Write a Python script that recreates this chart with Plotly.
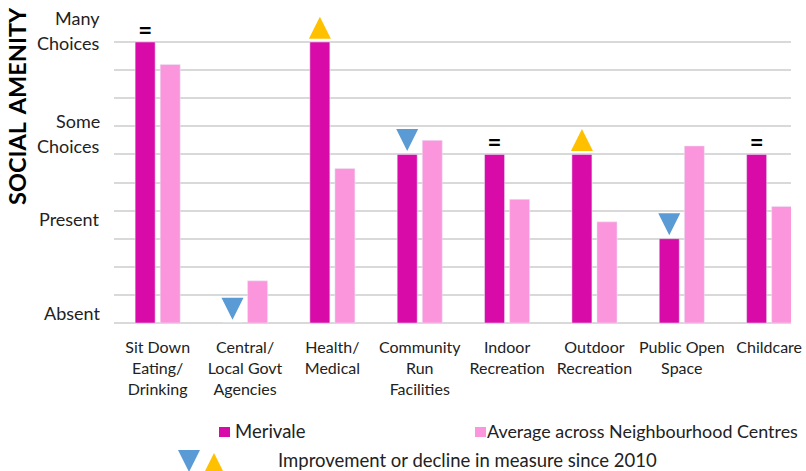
import plotly.graph_objects as go
import numpy as np

# ---------------- data ----------------
categories = ["Sit Down<br>Eating/<br>Drinking", "Central/<br>Local Govt<br>Agencies",
              "Health/<br>Medical", "Community<br>Run<br>Facilities",
              "Indoor<br>Recreation", "Outdoor<br>Recreation",
              "Public Open<br>Space", "Childcare"]
merivale = [10, 0, 10, 6, 6, 6, 3, 6]
average = [9.2, 1.5, 5.5, 6.5, 4.4, 3.6, 6.3, 4.15]
change = ["=", "down", "up", "down", "=", "up", "down", "="]
level_labels = ["Many", "Choices", "Some", "Choices", "Present", "Absent"]
level_label_pos = [10.85, 9.95, 7.2, 6.3, 3.7, 0.37]
grid_values = list(range(0, 11))
series_names = ["Merivale", "Average across Neighbourhood Centres"]
legend_note = "Improvement or decline in measure since 2010"
axis_title = "SOCIAL\u2009 AMENITY"

# ---------------- style ----------------
DARK = "#D90BA8"
LIGHT = "#FC96DC"
BLUE = "#5B9BD5"
YELLOW = "#FFC000"
GRID = "#D9D9D9"
FONT = "Lato, Calibri, sans-serif"

W, H = 806, 471
ML, MR, MT, MB = 114, 15, 0, 148
PW, PH = W - ML - MR, H - MT - MB
YTOP = PH / 28.1

x = np.arange(len(categories))
bw = 0.229
dark_off = -0.258
light_off = 0.029

fig = go.Figure()
fig.add_trace(go.Bar(x=x, y=merivale, width=bw, offset=dark_off, marker_color=DARK,
                     name=series_names[0], showlegend=False))
fig.add_trace(go.Bar(x=x, y=average, width=bw, offset=light_off, marker_color=LIGHT,
                     name=series_names[1], showlegend=False))

dark_center = x + dark_off + bw / 2
up_i = [i for i, c in enumerate(change) if c == "up"]
dn_i = [i for i, c in enumerate(change) if c == "down"]
eq_i = [i for i, c in enumerate(change) if c == "="]

fig.add_trace(go.Scatter(x=dark_center[up_i], y=[merivale[i] + 0.9 for i in up_i],
                         mode="markers", cliponaxis=False, showlegend=False,
                         marker=dict(symbol="arrow-up", size=22, color=YELLOW)))
fig.add_trace(go.Scatter(x=dark_center[dn_i], y=[merivale[i] + 0.12 for i in dn_i],
                         mode="markers", cliponaxis=False, showlegend=False,
                         marker=dict(symbol="arrow-down", size=22, color=BLUE)))
fig.add_trace(go.Scatter(x=dark_center[eq_i], y=[merivale[i] + 0.33 for i in eq_i],
                         mode="text", text=["="] * len(eq_i), cliponaxis=False,
                         showlegend=False, textposition="middle center",
                         textfont=dict(family=FONT, size=24, color="black", weight="bold")))

def px2x(px):
    return (px - ML) / PW

def py2y(py):
    return (H - MB - py) / PH

ann = []
for lab, pos in zip(level_labels, level_label_pos):
    ann.append(dict(text=lab, xref="paper", yref="y", x=px2x(102), y=pos,
                    xanchor="right", yanchor="middle", showarrow=False,
                    font=dict(family=FONT, size=18, color="#222")))
ann.append(dict(text="<b>" + axis_title + "</b>", xref="paper", yref="paper",
                x=px2x(17), y=py2y(106), textangle=-90, xanchor="center",
                yanchor="middle", showarrow=False,
                font=dict(family=FONT, size=23.5, color="black")))
ann.append(dict(text=series_names[0], xref="paper", yref="paper", x=px2x(233), y=py2y(431),
                xanchor="left", yanchor="middle", showarrow=False,
                font=dict(family=FONT, size=18.5, color="#222")))
ann.append(dict(text=series_names[1], xref="paper", yref="paper", x=px2x(485), y=py2y(431),
                xanchor="left", yanchor="middle", showarrow=False,
                font=dict(family=FONT, size=17.9, color="#222")))
ann.append(dict(text=legend_note, xref="paper", yref="paper", x=px2x(276), y=py2y(460),
                xanchor="left", yanchor="middle", showarrow=False,
                font=dict(family=FONT, size=18.5, color="#222")))

shapes = [
    dict(type="rect", xref="paper", yref="paper", x0=px2x(219), x1=px2x(230),
         y0=py2y(437), y1=py2y(427), fillcolor=DARK, line_width=0),
    dict(type="rect", xref="paper", yref="paper", x0=px2x(475), x1=px2x(486),
         y0=py2y(437), y1=py2y(427), fillcolor=LIGHT, line_width=0),
    dict(type="path", xref="paper", yref="paper",
         path=f"M{px2x(178)},{py2y(450)} L{px2x(200)},{py2y(450)} L{px2x(189)},{py2y(472)} Z",
         fillcolor=BLUE, line_width=0),
    dict(type="path", xref="paper", yref="paper",
         path=f"M{px2x(203)},{py2y(475)} L{px2x(225)},{py2y(475)} L{px2x(214)},{py2y(453)} Z",
         fillcolor=YELLOW, line_width=0),
]

fig.update_layout(
    width=W, height=H, margin=dict(l=ML, r=MR, t=MT, b=MB, pad=0),
    plot_bgcolor="white", paper_bgcolor="white",
    font=dict(family=FONT, color="#222"),
    annotations=ann, shapes=shapes, showlegend=False,
    xaxis=dict(range=[-0.5, 7.25], tickvals=x, ticktext=categories, showgrid=False,
               zeroline=False, showline=False, ticks="", ticklabelstandoff=13,
               tickfont=dict(family=FONT, size=16, color="#222")),
    yaxis=dict(range=[0, YTOP], tickvals=grid_values, showticklabels=False, showgrid=True,
               gridcolor=GRID, gridwidth=2, zeroline=True, zerolinecolor=GRID,
               zerolinewidth=2, showline=False, ticks=""),
)

fig.write_html("out.html", config={"displayModeBar": False},
               post_script="document.body.style.margin='0';document.body.style.padding='0';")
